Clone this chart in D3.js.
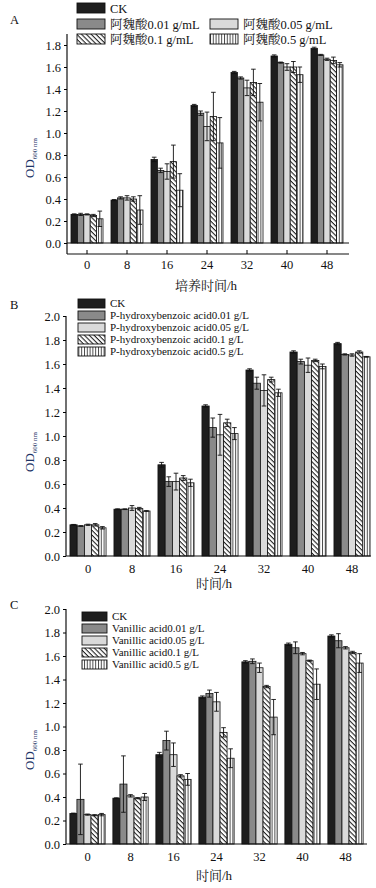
<!DOCTYPE html>
<html><head><meta charset="utf-8">
<script src="https://cdn.jsdelivr.net/npm/d3@7"></script>
<style>
html,body{margin:0;padding:0;background:#fff;}
svg{display:block;}
text{font-family:"Liberation Serif","Noto Serif CJK SC","Noto Sans CJK SC",serif;fill:#111;}
</style></head>
<body>
<svg id="chart" width="376" height="888"></svg>
<script>
// ---------- DATA ----------
const times = ["0", "8", "16", "24", "32", "40", "48"];
const yTicksA = [0, 0.2, 0.4, 0.6, 0.8, 1.0, 1.2, 1.4, 1.6, 1.8];
const yTicksBC = [0, 0.2, 0.4, 0.6, 0.8, 1.0, 1.2, 1.4, 1.6, 1.8, 2.0];

const seriesA = ["CK", "阿魏酸0.01 g/mL", "阿魏酸0.05 g/mL", "阿魏酸0.1 g/mL", "阿魏酸0.5 g/mL"];
const meansA = [
  [0.26, 0.39, 0.76, 1.25, 1.55, 1.70, 1.77],
  [0.26, 0.41, 0.66, 1.18, 1.50, 1.64, 1.71],
  [0.26, 0.41, 0.65, 1.06, 1.41, 1.60, 1.67],
  [0.25, 0.40, 0.74, 1.15, 1.46, 1.60, 1.66],
  [0.22, 0.30, 0.48, 0.91, 1.28, 1.53, 1.62]
];
const errA = [
  [0.005, 0.005, 0.02, 0.01, 0.01, 0.01, 0.01],
  [0.01, 0.01, 0.02, 0.02, 0.01, 0.005, 0.005],
  [0.005, 0.02, 0.07, 0.13, 0.07, 0.03, 0.01],
  [0.01, 0.02, 0.15, 0.22, 0.12, 0.05, 0.03],
  [0.07, 0.13, 0.15, 0.23, 0.17, 0.07, 0.02]
];

const seriesB = ["CK", "P-hydroxybenzoic acid0.01 g/L", "P-hydroxybenzoic acid0.05 g/L", "P-hydroxybenzoic acid0.1 g/L", "P-hydroxybenzoic acid0.5 g/L"];
const meansB = [
  [0.26, 0.39, 0.76, 1.25, 1.55, 1.70, 1.77],
  [0.25, 0.39, 0.62, 1.07, 1.44, 1.62, 1.68],
  [0.26, 0.40, 0.62, 1.01, 1.38, 1.59, 1.675],
  [0.26, 0.395, 0.65, 1.11, 1.47, 1.63, 1.70],
  [0.235, 0.375, 0.61, 1.02, 1.36, 1.58, 1.66]
];
const errB = [
  [0.003, 0.003, 0.02, 0.01, 0.01, 0.01, 0.01],
  [0.003, 0.003, 0.04, 0.08, 0.05, 0.02, 0.005],
  [0.005, 0.02, 0.07, 0.17, 0.13, 0.06, 0.01],
  [0.01, 0.01, 0.02, 0.03, 0.02, 0.01, 0.01],
  [0.01, 0.003, 0.03, 0.05, 0.03, 0.02, 0.003]
];

const seriesC = ["CK", "Vanillic acid0.01 g/L", "Vanillic acid0.05 g/L", "Vanillic acid0.1 g/L", "Vanillic acid0.5 g/L"];
const meansC = [
  [0.26, 0.39, 0.76, 1.25, 1.55, 1.70, 1.77],
  [0.38, 0.51, 0.88, 1.28, 1.555, 1.67, 1.73],
  [0.25, 0.41, 0.76, 1.21, 1.50, 1.62, 1.67],
  [0.245, 0.39, 0.58, 0.95, 1.34, 1.56, 1.63],
  [0.25, 0.40, 0.55, 0.73, 1.08, 1.36, 1.54]
];
const errC = [
  [0.003, 0.003, 0.02, 0.01, 0.01, 0.01, 0.01],
  [0.30, 0.24, 0.08, 0.03, 0.02, 0.05, 0.06],
  [0.005, 0.01, 0.10, 0.08, 0.04, 0.01, 0.01],
  [0.005, 0.005, 0.01, 0.04, 0.01, 0.005, 0.01],
  [0.01, 0.03, 0.05, 0.08, 0.15, 0.13, 0.08]
];

// ---------- DRAW ----------
const svg = d3.select("#chart");
const defs = svg.append("defs");
const diag = defs.append("pattern").attr("id", "diag").attr("patternUnits", "userSpaceOnUse")
  .attr("width", 3.4).attr("height", 3.4).attr("patternTransform", "rotate(45)");
diag.append("rect").attr("width", 3.4).attr("height", 3.4).attr("fill", "#fff");
diag.append("line").attr("x1", 0).attr("y1", 0).attr("x2", 3.4).attr("y2", 0)
  .attr("stroke", "#222").attr("stroke-width", 2.2);
const vert = defs.append("pattern").attr("id", "vert").attr("patternUnits", "userSpaceOnUse")
  .attr("width", 2.8).attr("height", 4);
vert.append("rect").attr("width", 2.8).attr("height", 4).attr("fill", "#fff");
vert.append("line").attr("x1", 0.5).attr("y1", 0).attr("x2", 0.5).attr("y2", 4)
  .attr("stroke", "#333").attr("stroke-width", 0.9);

const fills = ["#1e1e1e", "#8a8a8a", "#dadada", "url(#diag)", "url(#vert)"];

function panel(cfg) {
  const { series, means, errs, yDomain, yRange, xRange, pad, ticks, label, labelY,
          ylabX, ylabY, xlab, xlabX, xlabY, legend, zeroLine, xTickInner } = cfg;
  const g = svg.append("g");
  const y = d3.scaleLinear().domain(yDomain).range(yRange);
  const x = d3.scaleBand().domain(times).range(xRange).paddingInner(pad).paddingOuter(pad / 2);
  const xs = d3.scaleBand().domain(d3.range(series.length)).range([0, x.bandwidth()]);

  // bars
  series.forEach((s, si) => {
    g.append("g").selectAll("rect").data(times).join("rect")
      .attr("x", (t) => x(t) + xs(si))
      .attr("y", (t, i) => y(means[si][i]))
      .attr("width", xs.bandwidth())
      .attr("height", (t, i) => y(0) - y(means[si][i]))
      .attr("fill", fills[si]).attr("stroke", "#111").attr("stroke-width", 0.8);
  });
  // error bars
  series.forEach((s, si) => {
    const eg = g.append("g").attr("stroke", "#111").attr("stroke-width", 0.9);
    times.forEach((t, i) => {
      const cx = x(t) + xs(si) + xs.bandwidth() / 2;
      const hi = y(means[si][i] + errs[si][i]);
      const lo = y(Math.max(means[si][i] - errs[si][i], 0));
      eg.append("line").attr("x1", cx).attr("x2", cx).attr("y1", hi).attr("y2", lo);
      eg.append("line").attr("x1", cx - 2.3).attr("x2", cx + 2.3).attr("y1", hi).attr("y2", hi);
      eg.append("line").attr("x1", cx - 2.3).attr("x2", cx + 2.3).attr("y1", lo).attr("y2", lo);
    });
  });

  // axes
  const yAx = g.append("g").attr("transform", `translate(${xRange[0]},0)`)
    .call(d3.axisLeft(y).tickValues(ticks).tickSize(3).tickPadding(3).tickFormat(d3.format(".1f")));
  yAx.select(".domain").attr("d", `M0,${yRange[1]}V${yRange[0]}`).attr("stroke", "#111").attr("stroke-width", 1.2);
  yAx.selectAll("text").attr("font-size", 12.5).attr("font-family", "Liberation Serif");

  const xAx = g.append("g").attr("transform", `translate(0,${yRange[0]})`)
    .call(d3.axisBottom(x).tickSize(xTickInner ? -4 : 0).tickPadding(xTickInner ? 6 : 8));
  xAx.select(".domain").attr("d", `M${xRange[0]},0H${cfg.xEnd}`).attr("stroke", "#111").attr("stroke-width", 1.2);
  xAx.selectAll("text").attr("font-size", 12.5).attr("font-family", "Liberation Serif");

  if (zeroLine) {
    g.append("line").attr("x1", xRange[0]).attr("x2", cfg.xEnd).attr("y1", y(0)).attr("y2", y(0))
      .attr("stroke", "#111").attr("stroke-width", 1);
  }

  // panel label
  g.append("text").attr("x", 10).attr("y", labelY).attr("font-size", 12.5).text(label);

  // y label
  const yl = g.append("text").attr("transform", `translate(${ylabX},${ylabY}) rotate(-90)`)
    .attr("text-anchor", "middle").attr("font-size", 13).attr("fill", "#1d3466");
  yl.append("tspan").text("OD").attr("fill", "#1d3466");
  yl.append("tspan").text("600 nm").attr("font-size", 7).attr("dy", 3).attr("fill", "#1d3466");

  // x label
  g.append("text").attr("x", xlabX).attr("y", xlabY).attr("text-anchor", "middle")
    .attr("font-size", 13).text(xlab);

  // legend
  legend.forEach((p, si) => {
    g.append("rect").attr("x", p[0]).attr("y", p[1]).attr("width", cfg.swW).attr("height", cfg.swH)
      .attr("fill", fills[si]).attr("stroke", "#111").attr("stroke-width", 0.9);
    g.append("text").attr("x", p[0] + cfg.swW + 5).attr("y", p[1] + cfg.swH / 2 + cfg.legFont * 0.36)
      .attr("font-size", cfg.legFont).text(series[si]);
  });
}

panel({
  series: seriesA, means: meansA, errs: errA, yDomain: [-0.1, 1.9], yRange: [254, 34],
  xRange: [67, 347], xEnd: 349, pad: 0.2, ticks: yTicksA, label: "A", labelY: 24,
  ylabX: 34, ylabY: 158, xlab: "培养时间/h", xlabX: 206, xlabY: 290, zeroLine: true, xTickInner: true,
  legend: [[77, 3], [77, 19], [210, 19], [77, 34], [210, 34]], swW: 28, swH: 10, legFont: 12.5
});
panel({
  series: seriesB, means: meansB, errs: errB, yDomain: [0, 2.0], yRange: [556, 316],
  xRange: [66, 374], xEnd: 371, pad: 0.18, ticks: yTicksBC, label: "B", labelY: 309,
  ylabX: 34, ylabY: 452, xlab: "时间/h", xlabX: 214, xlabY: 588, zeroLine: false, xTickInner: false,
  legend: [[78, 299], [78, 311], [78, 323], [78, 335], [78, 347]], swW: 27, swH: 9, legFont: 11
});
panel({
  series: seriesC, means: meansC, errs: errC, yDomain: [0, 2.0], yRange: [844, 609],
  xRange: [66, 367], xEnd: 367, pad: 0.18, ticks: yTicksBC, label: "C", labelY: 609,
  ylabX: 34, ylabY: 750, xlab: "时间/h", xlabX: 214, xlabY: 880, zeroLine: false, xTickInner: false,
  legend: [[82, 612], [82, 624], [82, 636], [82, 648], [82, 660]], swW: 25, swH: 9, legFont: 11
});
</script>
</body></html>
